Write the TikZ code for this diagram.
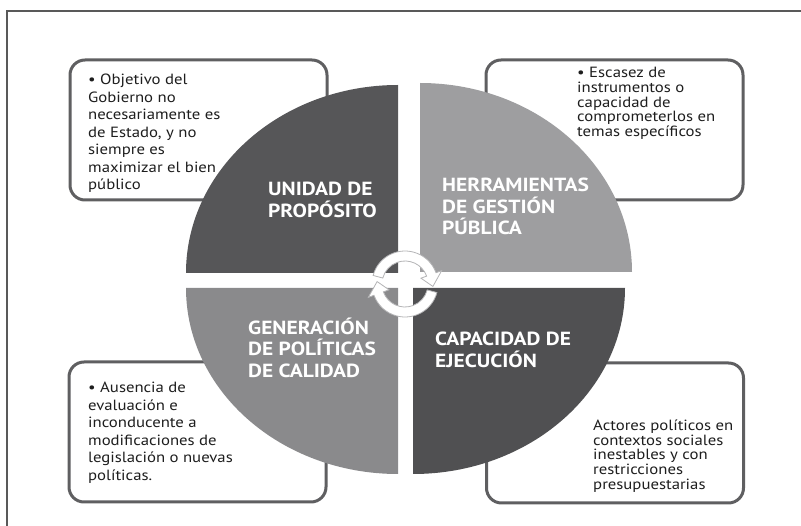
\documentclass[tikz,border=0pt]{standalone}
\usepackage{fontspec}
\setmainfont[FakeStretch=1.13]{PT Sans}
\usetikzlibrary{calc}
\definecolor{quadUP}{HTML}{565658}
\definecolor{quadHG}{HTML}{9E9EA0}
\definecolor{quadGP}{HTML}{8A8A8C}
\definecolor{quadCE}{HTML}{505052}
\definecolor{boxline}{HTML}{5F5F61}
\definecolor{textgray}{HTML}{1E1E1E}
\definecolor{arrowedge}{HTML}{B4B4B6}
\tikzset{
    infobox/.style={rectangle, draw=boxline, line width=3pt, rounded corners=15pt,
                    fill=white, minimum width=257pt, minimum height=140pt, inner sep=0pt},
    boxtext/.style={anchor=west, align=left, text=textgray, inner sep=0pt,
                    font=\fontsize{14.8}{17.5}\selectfont},
    boxtextR/.style={boxtext, font=\fontsize{14.8}{14.8}\selectfont},
    quadtitle/.style={anchor=west, align=left, text=white, inner sep=0pt,
                      font=\bfseries\fontsize{19}{21.5}\selectfont},
    cyclearrow/.style={fill=white, draw=arrowedge, line width=0.8pt},
    frameline/.style={draw=black!65, line width=1.2pt},
}
\newcommand{\turnarrow}[3]{%
    \draw[cyclearrow] ($(hub)+(#1:33)$) arc[start angle=#1, end angle=#2, radius=33]
        -- ($(hub)+(#2:39)$) -- ($(hub)+(#3:28)$) -- ($(hub)+(#2:17)$)
        -- ($(hub)+(#2:23)$) arc[start angle=#2, end angle=#1, radius=23] -- cycle;
}

\begin{document}
\begin{tikzpicture}[x=1pt, y=-1pt]
    \useasboundingbox (0,0) rectangle (801,526);

    % Frame
    \draw[frameline] (7,526) -- (7,11) -- (801,11);

    % Boxes behind the circle
    \node[infobox] at (198.5,130) (boxUP) {};
    \node[infobox] at (614.5,130) (boxHG) {};
    \node[infobox] at (197.5,432) (boxGP) {};
    \node[infobox] at (615,433)   (boxCE) {};

    % Quadrants
    \fill[quadUP] (398,273) -- ++(-212,0) arc[start angle=180, end angle=270, x radius=212, y radius=188] -- cycle;
    \fill[quadHG] (420,272) -- ++(0,-189) arc[start angle=270, end angle=360, x radius=212, y radius=189] -- cycle;
    \fill[quadCE] (413,288) -- ++(212,0) arc[start angle=0, end angle=90, x radius=212, y radius=186] -- cycle;
    \fill[quadGP] (398,288) -- ++(0,186) arc[start angle=90, end angle=180, x radius=212, y radius=186] -- cycle;

    % Cycle arrows
    \coordinate (hub) at (405,284);
    \turnarrow{-165}{-20}{5}
    \turnarrow{15}{160}{185}

    % Titles
    \node[quadtitle] at (268,200)   (titleUP) {UNIDAD DE\\PROPÓSITO};
    \node[quadtitle] at (442,206.5) (titleHG) {HERRAMIENTAS\\DE GESTIÓN\\PÚBLICA};
    \node[quadtitle] at (248,347.5) (titleGP) {GENERACIÓN\\DE POLÍTICAS\\DE CALIDAD};
    \node[quadtitle] at (435,350)   (titleCE) {CAPACIDAD DE\\EJECUCIÓN};

    % Box texts
    \node[boxtext] at (88,133.5) (textUP) {• Objetivo del\\Gobierno no\\necesariamente es\\de Estado, y no\\siempre es\\maximizar el bien\\público};
    \node[boxtextR] at (577,103.5) (textHG) {• Escasez de\\instrumentos o\\capacidad de\\comprometerlos en\\temas específicos};
    \node[boxtext] at (88,432.5) (textGP) {• Ausencia de\\evaluación e\\inconducente a\\modificaciones de\\legislación o nuevas\\políticas.};
    \node[boxtextR] at (593,456) (textCE) {Actores políticos en\\contextos sociales\\inestables y con\\restricciones\\presupuestarias};

\end{tikzpicture}
\end{document}
